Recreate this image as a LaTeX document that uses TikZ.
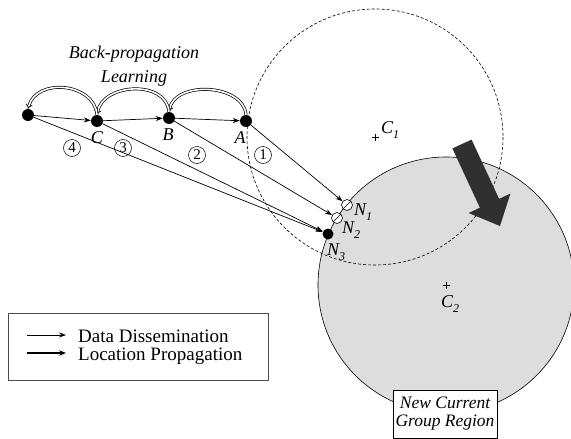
\documentclass[tikz,border=0pt]{standalone}
\usepackage{fontspec}
\setmainfont{Liberation Serif}
\usetikzlibrary{arrows.meta}
\definecolor{regiongray}{RGB}{221,221,221}
\definecolor{movearrow}{RGB}{48,48,48}
\newcommand\idx[1]{\raisebox{-0.3em}{\fontsize{12}{12}\selectfont #1}}
\begin{document}
\begin{tikzpicture}[x=1pt,y=-1pt,
  dot/.style={circle,fill=black,inner sep=0pt,minimum size=12pt},
  relay/.style={circle,draw,fill=white,inner sep=0pt,minimum size=11pt,line width=0.6pt,
    path picture={\draw[line width=0.6pt] (path picture bounding box.south west) -- (path picture bounding box.north east);}},
  data/.style={line width=0.7pt,-{Stealth[length=7pt,width=5pt]}},
  backprop/.style={double,double distance=1.6pt,line width=0.7pt,-{Implies}},
  lab/.style={font=\rmfamily\fontsize{18}{18}\selectfont\itshape,inner sep=0pt},
  num/.style={circle,draw,line width=0.5pt,minimum size=17pt,inner sep=0pt,
    font=\rmfamily\fontsize{15}{15}\selectfont},
  legendtext/.style={font=\rmfamily\fontsize{19}{19}\selectfont,inner sep=0pt,anchor=base west},
  centremark/.style={line width=0.6pt}
]
\useasboundingbox (0,0) rectangle (571,439);

% cluster centres
\coordinate (c1) at (375,137);
\coordinate (c2) at (446,285);

% new group region and previous region
\draw[fill=regiongray,line width=0.6pt] (c2) circle[radius=128];
\draw[dashed,dash pattern=on 3pt off 2pt,line width=0.6pt] (c1) circle[radius=128];

% centre marks
\draw[centremark] ([xshift=-3.5pt]c1) -- ([xshift=3.5pt]c1) ([yshift=-3.5pt]c1) -- ([yshift=3.5pt]c1);
\draw[centremark] ([xshift=-3.5pt]c2) -- ([xshift=3.5pt]c2) ([yshift=-3.5pt]c2) -- ([yshift=3.5pt]c2);
\node[lab,anchor=base west] (c1lab) at (381,133) {C\idx{1}};
\node[lab,anchor=base west] (c2lab) at (441,307) {C\idx{2}};

% sensor nodes
\node[dot] (L) at (28,115) {};
\node[dot] (C) at (97,121) {};
\node[dot] (B) at (169,118) {};
\node[dot] (A) at (246,121) {};
\node[relay] (N1) at (347,205) {};
\node[relay] (N2) at (337,218) {};
\node[dot,minimum size=11pt] (N3) at (328,234) {};

\node[lab,anchor=base] (Clab) at (97,143) {C};
\node[lab,anchor=base] (Blab) at (168,140) {B};
\node[lab,anchor=base] (Alab) at (240,143) {A};
\node[lab,anchor=base west] (N1lab) at (354,215) {N\idx{1}};
\node[lab,anchor=base west] (N2lab) at (342,233) {N\idx{2}};
\node[lab,anchor=base west] (N3lab) at (327,255) {N\idx{3}};

% data dissemination
\draw[data] (L) -- (C);
\draw[data] (C) -- (B);
\draw[data] (B) -- (A);
\draw[data] (A) -- (N1);
\draw[data] (B) -- (N2);
\draw[data] (C) -- (N3);
\draw[data] (L) -- (N3);

% path indices
\node[num] (n1) at (263,155) {1};
\node[num] (n2) at (197,155) {2};
\node[num] (n3) at (123,148) {3};
\node[num] (n4) at (72,148) {4};

% location propagation back along the path
\draw[backprop] (A.north) to[out=95,in=80,looseness=1.05] (B.north);
\draw[backprop] (B.north) to[out=95,in=80,looseness=1.15] (C.north);
\draw[backprop] (C.north) to[out=95,in=75,looseness=1.2] (L.north);
\node[lab,anchor=base] (bplab) at (134,58) {Back-propagation};
\node[lab,anchor=base] (lrlab) at (134,82) {Learning};

% movement of the group
\fill[movearrow] (452.4,148.4) -- (479.9,207.7) -- (468.6,213) -- (500,226)
  -- (510.4,193.6) -- (499.1,198.9) -- (471.6,139.6) -- cycle;

% region caption
\node[draw,fill=white,line width=0.6pt,minimum width=104pt,minimum height=48pt,inner sep=0pt,
  align=center,font=\rmfamily\fontsize{17.5}{18}\selectfont\itshape] (region) at (445,414)
  {New Current\\Group Region};

% legend
\node[draw=black!70,line width=0.7pt,minimum width=260pt,minimum height=67pt,inner sep=0pt] (legend) at (138,346.5) {};
\coordinate (d0) at (27,335);
\coordinate (d1) at (66,335);
\coordinate (p0) at (27,353);
\coordinate (p1) at (66,353);
\draw[data] (d0) -- (d1);
\draw[line width=1.3pt,-{Stealth[length=7pt,width=5.5pt]}] (p0) -- (p1);
\node[legendtext] (dlab) at (78,342) {Data Dissemination};
\node[legendtext] (plab) at (78,360) {Location Propagation};
\end{tikzpicture}
\end{document}
